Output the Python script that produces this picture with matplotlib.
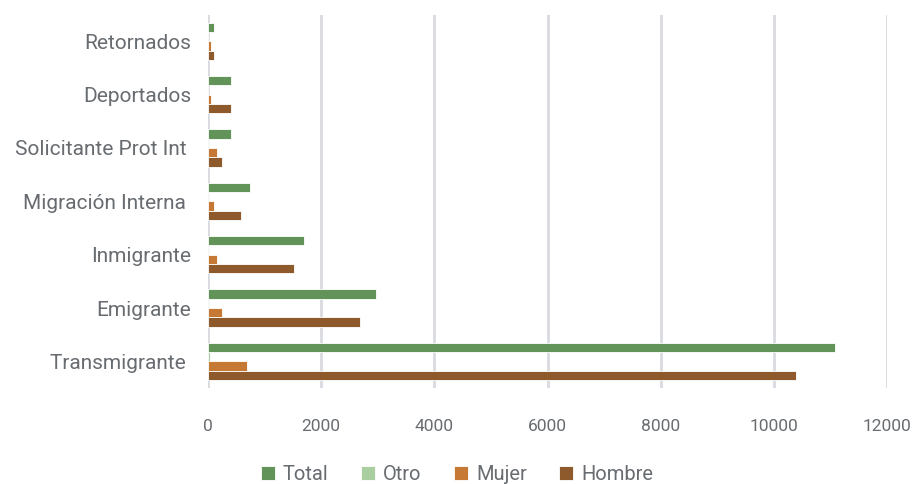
import numpy as np
import matplotlib.pyplot as plt

# categories listed bottom to top
categories = ['Transmigrante ', 'Emigrante', 'Inmigrante', 'Migración Interna ',
              'Solicitante Prot Int ', 'Deportados', 'Retornados']
total = [11070, 2970, 1700, 740, 400, 400, 100]
otro = [30, 20, 20, 20, 20, 5, 5]
mujer = [690, 250, 150, 100, 150, 50, 50]
hombre = [10380, 2680, 1510, 590, 250, 400, 100]

series = [('Total', total, '#629358'),
          ('Otro', otro, '#a9cfa1'),
          ('Mujer', mujer, '#c67935'),
          ('Hombre', hombre, '#8e5a2b')]

txt = '#686c70'
plt.rcParams['font.family'] = ['Roboto', 'DejaVu Sans']

fig = plt.figure(figsize=(9.14, 4.84), dpi=100)
ax = fig.add_axes([0.2276, 0.198, 0.7432, 0.772])

y = np.arange(len(categories))
h = 0.175
offsets = [1.5 * h, 0.5 * h, -0.5 * h, -1.5 * h]
for (name, vals, col), off in zip(series, offsets):
    ax.barh(y + off, vals, height=h, color=col, edgecolor='white', linewidth=0.6, label=name)

ax.set_xlim(0, 12000)
ax.set_ylim(-0.5, len(categories) - 0.5)
ax.set_xticks(range(0, 12001, 2000))
ax.set_yticks(y)
ax.set_yticklabels(categories)
ax.tick_params(axis='both', length=0, colors=txt)
ax.tick_params(axis='x', pad=22, labelsize=12.5)
ax.tick_params(axis='y', pad=12, labelsize=15)
ax.grid(axis='x', color='#d9dae0', linewidth=2)
ax.set_axisbelow(True)
for s in ax.spines.values():
    s.set_visible(False)

fig.legend(loc='center', bbox_to_anchor=(0.5, 0.02), ncol=4, frameon=False,
           fontsize=14.5, labelcolor=txt, handlelength=0.7, handleheight=0.7,
           columnspacing=1.6, handletextpad=0.4)

plt.savefig('out.png')
